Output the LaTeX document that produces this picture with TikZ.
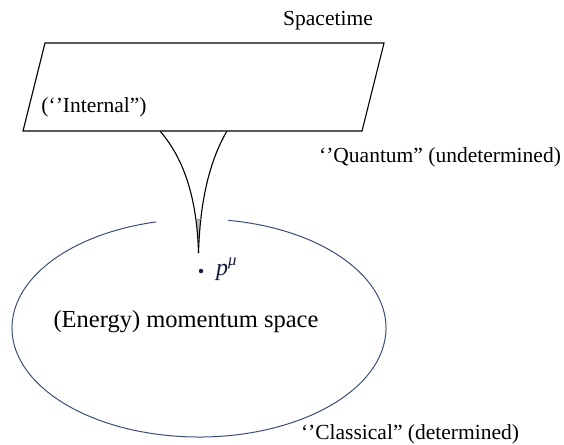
\documentclass[tikz,border=0pt]{standalone}
\usepackage{fontspec}
\setmainfont{Liberation Serif}
\definecolor{ellcol}{RGB}{60,78,120}
\definecolor{dotcol}{RGB}{20,25,60}
\begin{document}
\begin{tikzpicture}[x=1pt,y=-1pt,
  lbl/.style={inner sep=0pt, font=\fontsize{21.5}{24}\selectfont},
  biglbl/.style={inner sep=0pt, font=\fontsize{24.5}{28}\selectfont},
  mathlbl/.style={inner sep=0pt, text=dotcol, font=\fontsize{24}{28}\selectfont},
  plane/.style={draw=black, line width=1.1pt, line join=miter},
  funnel/.style={draw=black, line width=1.1pt},
  ell/.style={draw=ellcol, line width=1pt}]
\useasboundingbox (0,0) rectangle (564,444);
% spacetime sheet
\coordinate (pTL) at (45,43);
\coordinate (pTR) at (384,43);
\coordinate (pBR) at (362,131);
\coordinate (pBL) at (23,131);
\draw[plane] (pTL) -- (pTR) -- (pBR) -- (pBL) -- cycle;
% funnel
\coordinate (fL) at (160,131);
\coordinate (fR) at (227,131);
\coordinate (tip) at (198.5,253);
\fill[black!25] (196.5,219) -- (201,219) -- (tip) -- cycle;
\draw[funnel] (fL) .. controls (185,160) and (197,200) .. (tip);
\draw[funnel] (fR) .. controls (210,160) and (200,200) .. (tip);
\draw[black!45, line width=0.6pt] (196,219) -- (201.5,219);
% momentum space ellipse (with a gap at the top)
\coordinate (ec) at (199,328);
\draw[ell] (ec) ++(279:187 and 109) arc[start angle=279, end angle=616.7, x radius=187, y radius=109];
% point p^mu
\node[circle, fill=dotcol, inner sep=0pt, minimum size=4.5pt] (dot) at (201,271) {};
\node[mathlbl, anchor=base west] (pmu) at (216,275) {\textit{p}\textsuperscript{\textit{μ}}};
% labels
\node[lbl] (spacetime) at (328,21) {Spacetime};
\node[lbl] (internal) at (94,107) {(‘’Internal”)};
\node[lbl] (quantum) at (440,157) {‘’Quantum” (undetermined)};
\node[biglbl] (energy) at (186,322) {(Energy) momentum space};
\node[lbl] (classical) at (410,434) {‘’Classical” (determined)};
\end{tikzpicture}
\end{document}
